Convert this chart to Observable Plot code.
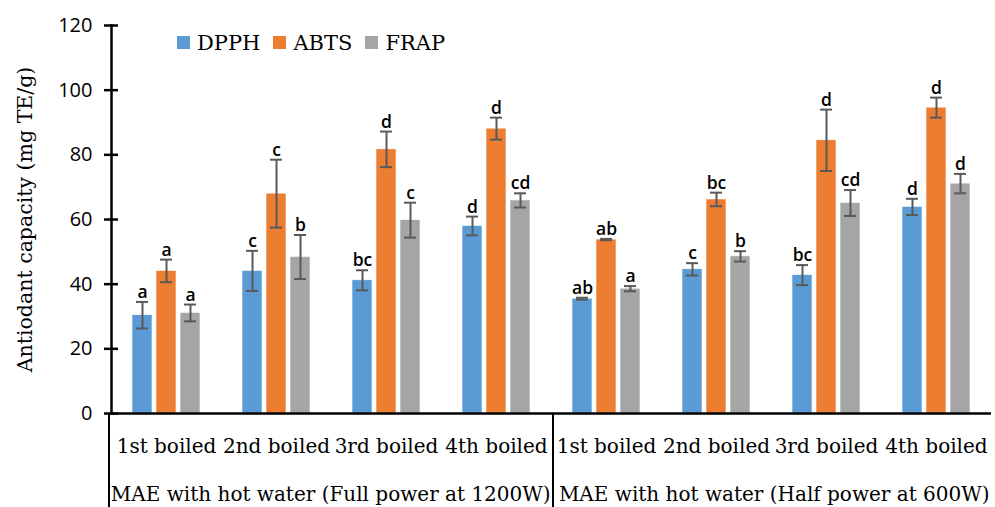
<!DOCTYPE html>
<html><head><meta charset="utf-8">
<script src="https://cdn.jsdelivr.net/npm/d3@7"></script>
<script src="https://cdn.jsdelivr.net/npm/@observablehq/plot@0.6"></script>
<style>
html,body{margin:0;padding:0;background:#fff;}
#wrap{position:relative;width:995px;height:507px;overflow:hidden;}
#legend{position:absolute;left:177px;top:26px;}
.lg-swatches{font-family:"DejaVu Serif";font-size:21px;color:#000;}
.lg-swatch{margin-right:13px !important;}
.lg-swatch svg{margin-right:7px !important;}
#groups{position:absolute;left:108px;top:413px;width:887px;height:94px;display:flex;}
#groups div{flex:1;border-left:2.5px solid #000;font-family:"DejaVu Serif";font-size:20px;display:flex;align-items:flex-end;justify-content:center;padding-bottom:1px;box-sizing:border-box;white-space:nowrap;}
</style></head>
<body><div id="wrap"></div>
<script>
const groups = ["MAE with hot water (Full power at 1200W)", "MAE with hot water (Half power at 600W)"];
const boils = ["1st boiled", "2nd boiled", "3rd boiled", "4th boiled"];
const series = ["DPPH", "ABTS", "FRAP"];
const colors = ["#5B9BD5", "#ED7D31", "#A5A5A5"];
const yTicks = [0, 20, 40, 60, 80, 100, 120];
const yLabel = "Antiodant capacity (mg TE/g)";

const dpph    = [30.4, 44.1, 41.2, 58.0, 35.5, 44.6, 42.8, 63.9];
const dpphErr = [4.1, 6.2, 3.1, 2.9, 0.3, 1.9, 3.1, 2.5];
const abts    = [44.1, 68.0, 81.7, 88.1, 53.8, 66.2, 84.5, 94.6];
const abtsErr = [3.5, 10.5, 5.5, 3.4, 0.2, 2.1, 9.5, 3.1];
const frap    = [31.1, 48.4, 59.8, 65.9, 38.6, 48.6, 65.1, 71.1];
const frapErr = [2.6, 6.8, 5.4, 2.2, 0.8, 1.6, 4.0, 3.0];
const dpphLetters = ["a", "c", "bc", "d", "ab", "c", "bc", "d"];
const abtsLetters = ["a", "c", "d", "d", "ab", "bc", "d", "d"];
const frapLetters = ["a", "b", "c", "cd", "a", "b", "cd", "d"];

const values = [dpph, abts, frap];
const errs = [dpphErr, abtsErr, frapErr];
const letters = [dpphLetters, abtsLetters, frapLetters];

const keys = [];
const rows = [];
groups.forEach((g, gi) => boils.forEach((b, bi) => {
  const i = gi * boils.length + bi;
  const key = g + "|" + b;
  keys.push(key);
  series.forEach((s, si) => rows.push({key, group: g, boil: b, series: s,
    value: values[si][i], err: errs[si][i], letter: letters[si][i]}));
}));

const chart = Plot.plot({
  width: 995, height: 507,
  marginLeft: 109, marginRight: 2, marginTop: 25, marginBottom: 94,
  style: {background: "#fff", color: "#000"},
  fx: {domain: keys, padding: 0, label: null, axis: null},
  x: {domain: series, paddingInner: 0.18, paddingOuter: 0.85, axis: null},
  y: {domain: [0, 120], label: null, axis: null},
  color: {domain: series, range: colors},
  marks: [
    Plot.barY(rows, {fx: "key", x: "series", y: "value", fill: "series", stroke: "#fff", strokeWidth: 0.6}),
    Plot.ruleX(rows, {fx: "key", x: "series", y1: d => d.value - d.err, y2: d => d.value + d.err, stroke: "#595959", strokeWidth: 2}),
    Plot.tickY(rows, {fx: "key", x: "series", y: d => d.value + d.err, stroke: "#595959", strokeWidth: 2, inset: 4}),
    Plot.tickY(rows, {fx: "key", x: "series", y: d => d.value - d.err, stroke: "#595959", strokeWidth: 2, inset: 4}),
    Plot.text(rows, {fx: "key", x: "series", y: d => d.value + d.err, text: "letter", lineAnchor: "bottom", dy: -4, fontSize: 17.5, fontWeight: 600, fontFamily: "Open Sans", fill: "#000"}),
    Plot.ruleY([0], {stroke: "#000", strokeWidth: 2.5}),
    Plot.frame({anchor: "left", facetAnchor: "left", stroke: "#000", strokeWidth: 2.5}),
    Plot.axisY({ticks: yTicks, tickSize: 7, tickPadding: 12, strokeWidth: 2.5, fontSize: 20, fontFamily: "Open Sans", label: null}),
    Plot.axisY({ticks: yTicks, tickSize: -7, strokeWidth: 2.5, tickFormat: () => "", label: null}),
    Plot.axisY({ticks: yTicks, tickSize: 0, tickFormat: () => "", label: yLabel, labelAnchor: "center", labelArrow: "none", labelOffset: 94, fontFamily: "DejaVu Serif", fontSize: 20.5}),
    Plot.axisFx({anchor: "bottom", domain: keys, tickFormat: d => d.split("|")[1], tickSize: 0, tickPadding: 25, fontSize: 20, fontFamily: "DejaVu Serif", label: null})
  ]
});

const wrap = document.getElementById("wrap");
wrap.appendChild(chart);

const legend = Plot.legend({color: {domain: series, range: colors}, legend: "swatches", swatchSize: 13, className: "lg"});
const lw = document.createElement("div");
lw.id = "legend";
lw.appendChild(legend);
wrap.appendChild(lw);

const gw = document.createElement("div");
gw.id = "groups";
groups.forEach(g => { const d = document.createElement("div"); d.textContent = g; gw.appendChild(d); });
wrap.appendChild(gw);
</script>
</body></html>
